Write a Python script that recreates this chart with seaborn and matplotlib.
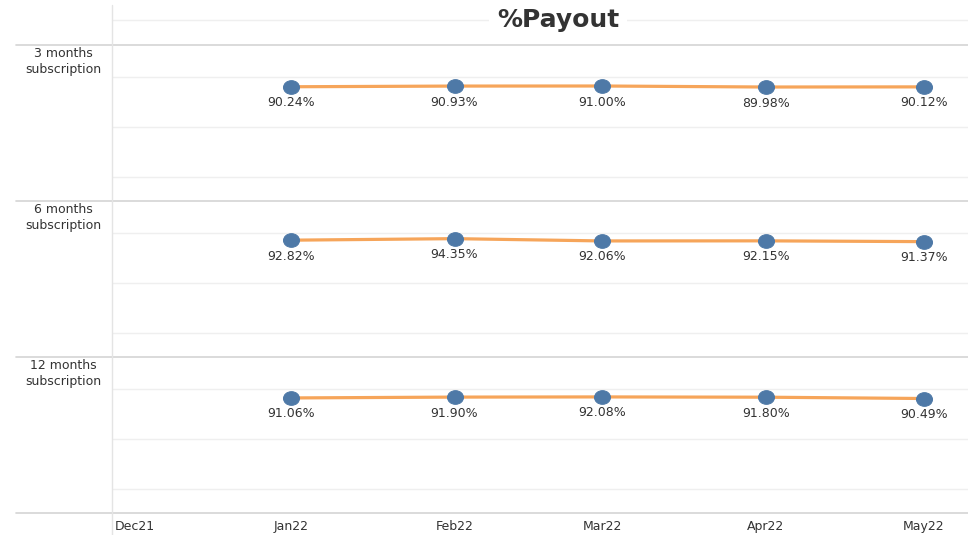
import pandas as pd
import matplotlib.pyplot as plt
from matplotlib.lines import Line2D
from matplotlib.path import Path
from matplotlib.transforms import Affine2D, ScaledTranslation
import seaborn as sns

months = ["2022-01-01", "2022-02-01", "2022-03-01", "2022-04-01", "2022-05-01"]
tick_months = ["2021-12-01"] + months
tick_labels = ["Dec21", "Jan22", "Feb22", "Mar22", "Apr22", "May22"]
plans = ["3 months\nsubscription", "6 months\nsubscription", "12 months\nsubscription"]
payout_3m = [90.24, 90.93, 91.00, 89.98, 90.12]
payout_6m = [92.82, 94.35, 92.06, 92.15, 91.37]
payout_12m = [91.06, 91.90, 92.08, 91.80, 90.49]

df = pd.DataFrame({
    "Month": pd.to_datetime(months * 3),
    "Plan": [p for p in plans for _ in months],
    "Payout": payout_3m + payout_6m + payout_12m,
})

sns.set_theme(style="white")
plt.rcParams["font.family"] = ["DejaVu Sans"]

W, H = 968, 535
fig = plt.figure(figsize=(W / 100, H / 100), dpi=100)
fig.patch.set_facecolor("white")

line_col = "#f6a55a"
dot_col = "#4e79a7"
txt_col = "#333333"
sep_col = "#d4d4d4"
grid_col = "#efefef"

# slightly wide ellipse marker, like the stretched original
ell = Path.unit_circle().transformed(Affine2D().scale(1.17, 1.0))

x0 = 112
tops = [45, 201, 357]
ph = 156
xmin = pd.Timestamp("2021-12-01") - pd.Timedelta(days=2.94)
xmax = pd.Timestamp("2022-05-01") + pd.Timedelta(days=8.34)

for i, plan in enumerate(plans):
    top = tops[i]
    ax = fig.add_axes([x0 / W, 1 - (top + ph) / H, (W - x0) / W, ph / H])
    sub = df[df["Plan"] == plan]
    sns.lineplot(data=sub, x="Month", y="Payout", color=line_col, linewidth=2.3,
                 marker=ell, markersize=11.5, markerfacecolor=dot_col,
                 markeredgecolor=dot_col, ax=ax, zorder=3)
    for _, r in sub.iterrows():
        ax.annotate(f"{r['Payout']:.2f}%", (r["Month"], r["Payout"]),
                    xytext=(0, -16), textcoords="offset pixels",
                    ha="center", va="center", fontsize=9, color=txt_col)
    ax.set_ylim(-24, 132)
    ax.set_xlim(xmin, xmax)
    ax.set_yticks([0, 50, 100])
    ax.yaxis.grid(True, color=grid_col, linewidth=1)
    ax.set_yticklabels([])
    ax.tick_params(axis="y", length=0)
    ax.set_xlabel("")
    ax.set_ylabel("")
    for s in ax.spines.values():
        s.set_visible(False)
    ax.set_facecolor("none")
    ax.set_xticks(pd.to_datetime(tick_months))
    if i < 2:
        ax.tick_params(axis="x", length=0, labelbottom=False)
    else:
        ax.set_xticklabels(tick_labels)
        ax.tick_params(axis="x", length=3, width=0.8, color="#d8d8d8",
                       labelsize=9, labelcolor=txt_col, pad=2)
        first = ax.get_xticklabels()[0]
        first.set_ha("left")
        first.set_transform(first.get_transform() +
                            ScaledTranslation(-13 / 100, 0, fig.dpi_scale_trans))
    fig.text(63 / W, 1 - (top + 2) / H, plan, ha="center", va="top", fontsize=9,
             color=txt_col, linespacing=1.35)

# separators and frame lines (pixel coords)
def hline(y, xa, xb, color, lw=1.0):
    fig.add_artist(Line2D([xa / W, xb / W], [1 - y / H, 1 - y / H],
                          color=color, linewidth=lw, transform=fig.transFigure))

for y in [45, 201, 357, 513]:
    hline(y, 16, W, sep_col, 1.2)
hline(20, x0, W, grid_col, 1.0)
fig.add_artist(Line2D([x0 / W, x0 / W], [0, 1 - 5 / H], color="#e4e4e4",
                      linewidth=1.0, transform=fig.transFigure))

fig.text(558 / W, 1 - 20 / H, "%Payout", ha="center", va="center",
         fontsize=18, fontweight="bold", color="#333333",
         bbox=dict(facecolor="white", edgecolor="none", pad=6))

fig.savefig("out.png", dpi=100)
